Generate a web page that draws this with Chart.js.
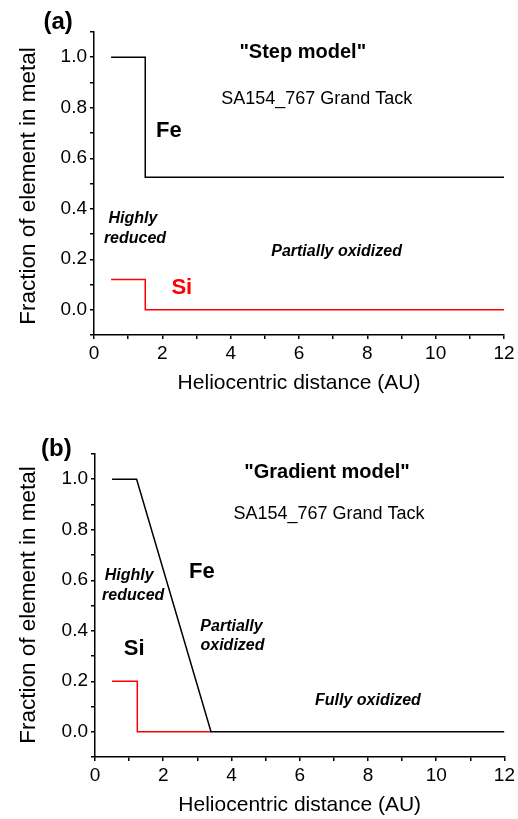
<!DOCTYPE html>
<html>
<head>
<meta charset="utf-8">
<script src="https://cdn.jsdelivr.net/npm/chart.js@4/dist/chart.umd.min.js"></script>
<style>
  html, body { margin: 0; padding: 0; background: #fff; }
  .panel { position: absolute; left: 0; width: 518px; }
  #wrapA { top: 0; height: 400px; }
  #wrapB { top: 400px; height: 419px; }
</style>
</head>
<body>
<div class="panel" id="wrapA"><canvas id="chartA" width="518" height="400"></canvas></div>
<div class="panel" id="wrapB"><canvas id="chartB" width="518" height="419"></canvas></div>
<script>
Chart.defaults.font.family = "'Liberation Sans', Arial, sans-serif";
Chart.defaults.color = "#000";

// (a) step model
const stepFeX = [0.5, 1.5, 12];
const stepFeY = [1.0, 0.525, 0.525];
const stepSiX = [0.5, 1.5, 12];
const stepSiY = [0.12, 0, 0];

// (b) gradient model
const gradFeX = [0.5, 1.22, 3.4, 12];
const gradFeY = [1.0, 1.0, 0, 0];
const gradSiX = [0.5, 1.24, 3.4];
const gradSiY = [0.2, 0, 0];

const xTitle = "Heliocentric distance (AU)";
const yTitle = "Fraction of element in metal";

function pts(xs, ys) {
  return xs.map((x, i) => ({ x: x, y: ys[i] }));
}

// text labels placed in data coordinates, plus the y axis title
const textPlugin = {
  id: "texts",
  afterDraw(chart, args, opts) {
    const ctx = chart.ctx;
    const xs = chart.scales.x, ys = chart.scales.y;
    ctx.save();
    ctx.textAlign = "center";
    ctx.textBaseline = "middle";
    (opts.items || []).forEach((t) => {
      ctx.font = t.font;
      ctx.fillStyle = t.color || "#000";
      ctx.fillText(t.text, xs.getPixelForValue(t.x), ys.getPixelForValue(t.y));
    });
    // y title
    ctx.font = "22.5px 'Liberation Sans', Arial, sans-serif";
    ctx.fillStyle = "#000";
    ctx.translate(opts.yTitleX, opts.yTitleY);
    ctx.rotate(-Math.PI / 2);
    ctx.fillText(yTitle, 0, 0);
    ctx.restore();
  },
};

function makeChart(id, datasets, box, canvasH, titlePadBottom, yTitlePos, items) {
  return new Chart(document.getElementById(id), {
    type: "line",
    data: { datasets: datasets },
    options: {
      responsive: false,
      animation: false,
      layout: { padding: { left: 0, right: 518 - box.right, top: box.top, bottom: 0 } },
      plugins: {
        legend: { display: false },
        tooltip: { enabled: false },
        texts: { items: items, yTitleX: yTitlePos[0], yTitleY: yTitlePos[1] },
      },
      elements: { point: { radius: 0 } },
      scales: {
        x: {
          type: "linear",
          min: 0,
          max: 12,
          afterFit: (s) => { s.height = canvasH - box.bottom; },
          grid: { drawOnChartArea: false, drawTicks: true, tickLength: 4, color: "#000", lineWidth: 1.5 },
          border: { color: "#000", width: 1.5 },
          ticks: {
            stepSize: 1,
            autoSkip: false,
            maxRotation: 0,
            padding: 3,
            font: { size: 19 },
            callback: (v) => (v % 2 === 0 ? String(v) : ""),
          },
          title: { display: true, text: xTitle, font: { size: 21 }, padding: { top: 0, bottom: titlePadBottom } },
        },
        y: {
          min: -0.1,
          max: 1.1,
          afterFit: (s) => { s.width = box.left; },
          grid: { drawOnChartArea: false, drawTicks: true, tickLength: 4, color: "#000", lineWidth: 1.5 },
          border: { color: "#000", width: 1.5 },
          ticks: {
            stepSize: 0.1,
            autoSkip: false,
            padding: 3,
            font: { size: 19 },
            callback: (v) => {
              const k = Math.round(v * 10);
              return k % 2 === 0 && k >= 0 && k <= 10 ? (k / 10).toFixed(1) : "";
            },
          },
        },
      },
    },
    plugins: [textPlugin],
  });
}

const boldItalic = "italic bold 16px 'Liberation Sans', Arial, sans-serif";
const bold = (n) => "bold " + n + "px 'Liberation Sans', Arial, sans-serif";
const plain = "18px 'Liberation Sans', Arial, sans-serif";

makeChart("chartA", [
  { data: pts(stepFeX, stepFeY), stepped: "before", borderColor: "#000", borderWidth: 1.5 },
  { data: pts(stepSiX, stepSiY), stepped: "before", borderColor: "#ff0000", borderWidth: 1.5 },
], { left: 94, right: 504, top: 32, bottom: 335 }, 400, 4, [29, 186], [
  { text: "(a)", x: -1.05, y: 1.14, font: bold(24) },
  { text: "\"Step model\"", x: 6.11, y: 1.02, font: bold(20) },
  { text: "SA154_767 Grand Tack", x: 6.52, y: 0.834, font: plain },
  { text: "Fe", x: 2.19, y: 0.707, font: bold(22) },
  { text: "Highly", x: 1.14, y: 0.36, font: boldItalic },
  { text: "reduced", x: 1.2, y: 0.28, font: boldItalic },
  { text: "Partially oxidized", x: 7.1, y: 0.23, font: boldItalic },
  { text: "Si", x: 2.57, y: 0.087, font: bold(22), color: "#ff0000" },
]);

makeChart("chartB", [
  { data: pts(gradFeX, gradFeY), borderColor: "#000", borderWidth: 1.5 },
  { data: pts(gradSiX, gradSiY), stepped: "before", borderColor: "#ff0000", borderWidth: 1.5 },
], { left: 95, right: 506, top: 54, bottom: 357 }, 419, 1, [29, 205], [
  { text: "(b)", x: -1.13, y: 1.118, font: bold(24) },
  { text: "\"Gradient model\"", x: 6.8, y: 1.027, font: bold(20) },
  { text: "SA154_767 Grand Tack", x: 6.86, y: 0.864, font: plain },
  { text: "Fe", x: 3.13, y: 0.634, font: bold(22) },
  { text: "Highly", x: 1.0, y: 0.618, font: boldItalic },
  { text: "reduced", x: 1.12, y: 0.539, font: boldItalic },
  { text: "Partially", x: 4.0, y: 0.416, font: boldItalic },
  { text: "oxidized", x: 4.03, y: 0.341, font: boldItalic },
  { text: "Si", x: 1.15, y: 0.329, font: bold(22) },
  { text: "Fully oxidized", x: 8.0, y: 0.123, font: boldItalic },
]);
</script>
</body>
</html>
